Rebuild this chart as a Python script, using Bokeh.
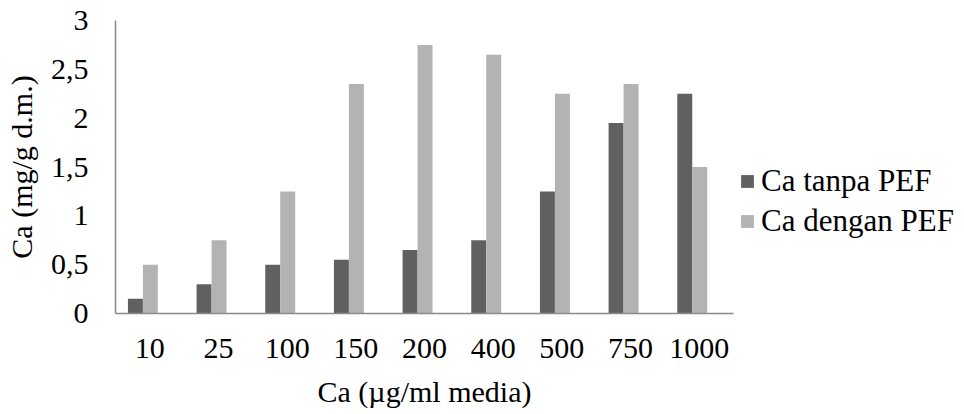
from bokeh.plotting import figure
from bokeh.models import (ColumnDataSource, FactorRange, Range1d, FixedTicker,
                          CustomJSTickFormatter, Legend, LegendItem)
from bokeh.transform import dodge
from bokeh.embed import file_html
from bokeh.resources import INLINE

categories = ["10", "25", "100", "150", "200", "400", "500", "750", "1000"]
ca_tanpa_pef = [0.15, 0.30, 0.50, 0.55, 0.65, 0.75, 1.25, 1.95, 2.25]
ca_dengan_pef = [0.50, 0.75, 1.25, 2.35, 2.75, 2.65, 2.25, 2.35, 1.50]
y_ticks = [0, 0.5, 1, 1.5, 2, 2.5, 3]

FONT = "Liberation Serif"
DARK = "#606060"
LIGHT = "#b3b3b3"
AXIS = "#8a8a8a"

source = ColumnDataSource(dict(cat=categories, tanpa=ca_tanpa_pef, dengan=ca_dengan_pef))

p = figure(width=964, height=414, frame_width=618, frame_height=293,
           x_range=FactorRange(*categories, range_padding=0),
           y_range=Range1d(0, 3),
           output_backend="svg", toolbar_location=None,
           min_border_left=115, min_border_right=0,
           min_border_top=20, min_border_bottom=101)
p.outline_line_color = None
p.background_fill_color = "white"
p.border_fill_color = "white"
p.grid.visible = False

r1 = p.vbar(x=dodge("cat", -0.21, range=p.x_range), top="tanpa", width=0.218,
            source=source, fill_color=DARK, line_color=None)
r2 = p.vbar(x=dodge("cat", 0.008, range=p.x_range), top="dengan", width=0.218,
            source=source, fill_color=LIGHT, line_color=None)

# axes
p.yaxis.ticker = FixedTicker(ticks=y_ticks)
p.yaxis.formatter = CustomJSTickFormatter(code="return tick.toString().replace('.', ',');")
for ax in (p.xaxis, p.yaxis):
    ax.major_tick_line_color = None
    ax.minor_tick_line_color = None
    ax.major_tick_out = 0
    ax.major_tick_in = 0
    ax.axis_line_color = AXIS
    ax.axis_line_width = 1.5
    ax.major_label_text_font = FONT
    ax.major_label_text_font_size = "30px"
    ax.major_label_text_color = "black"
    ax.axis_label_text_font = FONT
    ax.axis_label_text_font_size = "30px"
    ax.axis_label_text_font_style = "normal"
    ax.axis_label_text_color = "black"
p.yaxis.major_label_standoff = 27
p.xaxis.major_label_standoff = 25
p.xaxis.group_text_font_size = "0px"
p.yaxis.axis_label = "Ca (mg/g d.m.)"
p.xaxis.axis_label = "Ca (µg/ml media)"
p.yaxis.axis_label_standoff = 10
p.xaxis.axis_label_standoff = 14

legend = Legend(items=[LegendItem(label="Ca tanpa PEF", renderers=[r1]),
                       LegendItem(label="Ca dengan PEF", renderers=[r2])],
                location=(6, 72), orientation="vertical",
                label_text_font=FONT, label_text_font_size="31px",
                label_text_color="black",
                glyph_width=16, glyph_height=16, label_standoff=6,
                label_height=40, spacing=0, padding=0, margin=6,
                border_line_color=None, background_fill_alpha=0)
p.add_layout(legend, "right")

open("out.html", "w").write(file_html(p, INLINE))
